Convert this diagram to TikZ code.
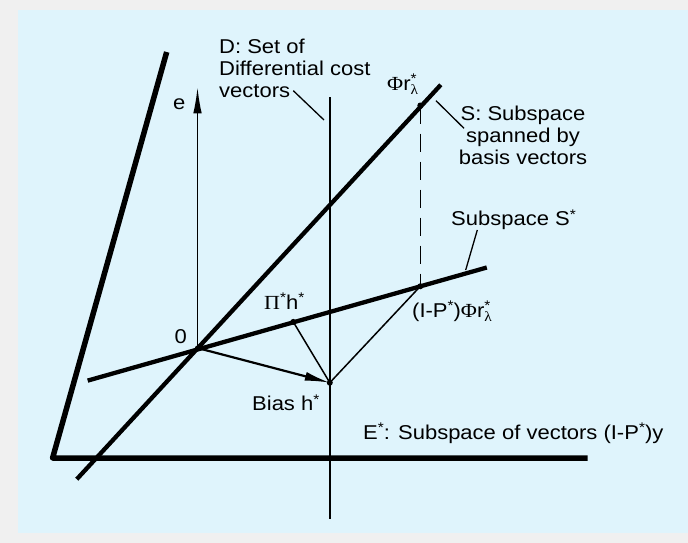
\documentclass[tikz,border=0pt]{standalone}
\usepackage{fontspec}
\setmainfont[FakeStretch=1.1]{Liberation Sans}
\newfontfamily\symf[FakeStretch=1.1]{Liberation Serif}
\usetikzlibrary{arrows.meta}
\definecolor{bgblue}{RGB}{223,244,252}
\definecolor{bggrey}{RGB}{240,240,240}
\newcommand{\sstar}{\raisebox{6.5pt}{\fontsize{14}{14}\selectfont *}}
\newcommand{\rlam}{r\rlap{\raisebox{7pt}{\fontsize{14}{14}\selectfont *}}\raisebox{-4.5pt}{\fontsize{14}{14}\selectfont\symf λ}}
\tikzset{
  lbl/.style={inner sep=0pt, font=\fontsize{20}{22}\selectfont},
  thickline/.style={line width=5.5pt, line join=round},
  subline/.style={line width=4.3pt},
  thinline/.style={line width=1.5pt},
  leader/.style={line width=1.3pt},
  dot/.style={circle, fill=black, inner sep=0pt, minimum size=6pt},
}
\begin{document}
\begin{tikzpicture}[x=1pt,y=-1pt]
\fill[bggrey] (0,0) rectangle (688,543);
\fill[bgblue] (18,10) rectangle (688,533);
\useasboundingbox (0,0) rectangle (688,543);
% key coordinates
\coordinate (O) at (197.5,348);
\coordinate (B) at (329.8,382.7);
\coordinate (A1) at (166.7,52);
\coordinate (A2) at (52.6,458);
\coordinate (A3) at (587.7,458);
\coordinate (S1) at (76.8,479.2);
\coordinate (S2) at (440.8,84.8);
\coordinate (T1) at (87.7,380.6);
\coordinate (T2) at (486.8,267.5);
\coordinate (Dtop) at (329.8,97);
\coordinate (Dbot) at (329.8,519);
\coordinate (Etop) at (197.5,87.3);
% thick lines
\draw[thickline] (A1) -- (A2) -- (A3);
\draw[subline] (S1) -- (S2);
\draw[subline] (T1) -- (T2);
\draw[thinline] (Dtop) -- (Dbot);
% points
\node[dot] (Fp) at (420.3,105.5) {};
\node[dot] (Qp) at (420.3,286.3) {};
\node[dot] (Pp) at (293.3,321.9) {};
\node[dot] (Bp) at (B) {};
\node[dot, minimum size=5pt] (Op) at (O) {};
\draw[thinline, dash pattern=on 18pt off 10pt] (Fp.center) -- (Qp.center);
\draw[thinline] (Pp.center) -- (Bp.center) -- (Qp.center);
\draw[line width=1.5pt, -{Latex[length=26pt,width=8.5pt]}] (Op.center) -- (Etop);
\draw[line width=2.2pt, -{Latex[length=25pt,width=9pt]}] (Op.center) -- (Bp.center);
% labels
\node[lbl, anchor=north west, align=left] (Dlab) at (219,38.8) {D: Set of\\Differential cost\\vectors};
\coordinate (Dl1) at (293.3,90.7);
\coordinate (Dl2) at (324,120);
\draw[leader] (Dl1) -- (Dl2);
\node[lbl, anchor=north, align=center] (Slab) at (523,106.2) {S: Subspace\\spanned by\\basis vectors};
\coordinate (Sl1) at (464,128.3);
\coordinate (Sl2) at (436,100.7);
\draw[leader] (Sl1) -- (Sl2);
\node[lbl, anchor=base west] (SSlab) at (451,225.6) {Subspace S\sstar};
\coordinate (Tl1) at (477.3,230);
\coordinate (Tl2) at (465.7,270);
\draw[leader] (Tl1) -- (Tl2);
\node[lbl, anchor=base east] (elab) at (185.5,109.3) {e};
\node[lbl, anchor=base west] (zlab) at (174.5,343.3) {0};
\node[lbl, anchor=base west] (Plab) at (264,309) {{\symf Π}\sstar h\sstar};
\node[lbl, anchor=base west] (Blab) at (252,410.7) {Bias h\sstar};
\node[lbl, anchor=base west] (Qlab) at (412,317.3) {(I-P\sstar){\symf Φ}\rlam};
\node[lbl, anchor=base west] (Flab) at (387,90) {{\symf Φ}\rlam};
\node[lbl, anchor=base west] (Elab) at (363,439.3) {E\sstar: Subspace of vectors (I-P\sstar)y};
\end{tikzpicture}
\end{document}
